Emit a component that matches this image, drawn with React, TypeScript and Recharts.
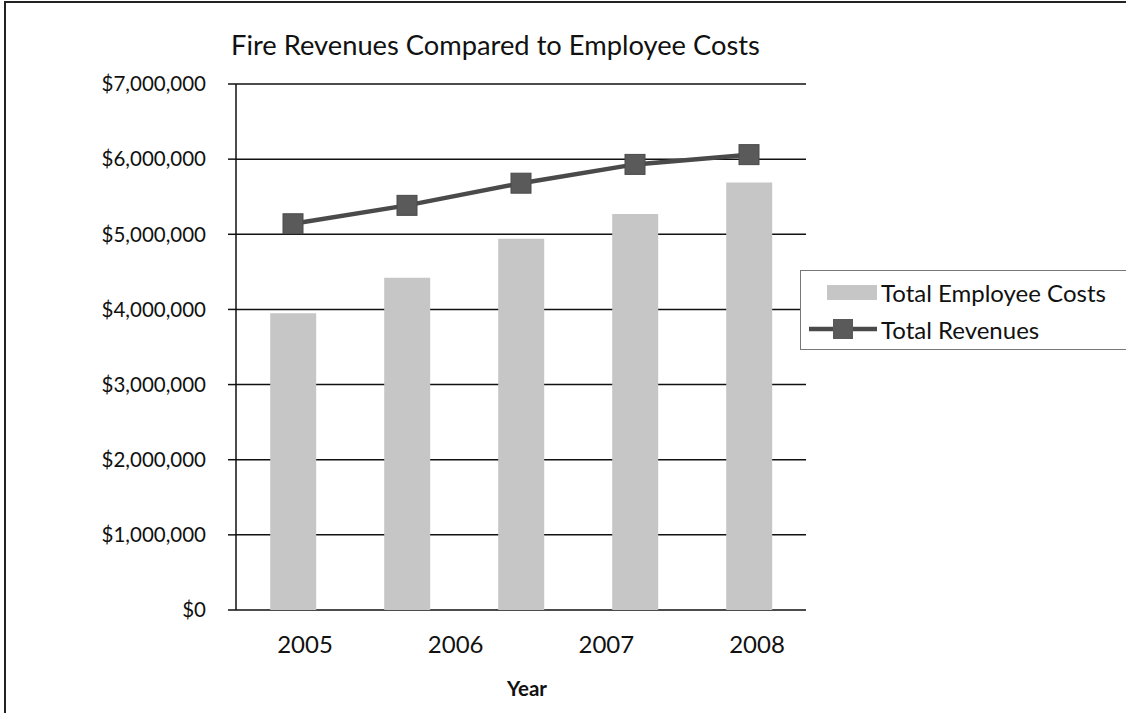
import { ComposedChart, LineChart, Bar, Line, XAxis, YAxis, CartesianGrid } from 'recharts';

// five plotted points, only four year labels printed under the axis
const POINTS = ['p1', 'p2', 'p3', 'p4', 'p5'];
const EMPLOYEE_COSTS = [3950000, 4420000, 4940000, 5270000, 5690000];
const REVENUES = [5140000, 5385000, 5680000, 5930000, 6060000];
const YEAR_LABELS = ['2005', '2006', '2007', '2008'];
const Y_TICKS = [0, 1000000, 2000000, 3000000, 4000000, 5000000, 6000000, 7000000];

const FONT = 'Lato, "Open Sans", sans-serif';

const data = POINTS.map((p, i) => ({
  point: p,
  costs: EMPLOYEE_COSTS[i],
  revenues: REVENUES[i],
}));

const yearData = YEAR_LABELS.map((y) => ({ year: y }));

const money = (v: number) => '$' + v.toLocaleString('en-US');

function SquareDot(props: any) {
  const { cx, cy } = props;
  if (cx == null || cy == null) return null;
  return <rect x={cx - 10} y={cy - 10} width={20} height={20} fill="#5a5a5a" stroke="#4a4a4a" strokeWidth={1} />;
}

function LegendBox() {
  return (
    <div
      style={{
        position: 'absolute',
        left: 800,
        top: 270,
        width: 340,
        height: 80,
        border: '1px solid #777',
        background: '#fff',
        fontFamily: FONT,
        fontSize: 24,
        color: '#111',
        boxSizing: 'border-box',
      }}
    >
      <div style={{ display: 'flex', alignItems: 'center', height: 38, paddingTop: 2 }}>
        <svg width={80} height={24}>
          <rect x={26} y={5} width={50} height={15} fill="#c6c6c6" />
        </svg>
        <span>Total Employee Costs</span>
      </div>
      <div style={{ display: 'flex', alignItems: 'center', height: 36 }}>
        <svg width={80} height={24}>
          <line x1={8} y1={12} x2={76} y2={12} stroke="#4a4a4a" strokeWidth={4.5} />
          <rect x={32} y={2} width={20} height={20} fill="#5a5a5a" />
        </svg>
        <span>Total Revenues</span>
      </div>
    </div>
  );
}

export default function App() {
  return (
    <div style={{ position: 'absolute', left: 0, top: 0, width: 1126, height: 713, background: '#fff', overflow: 'hidden' }}>
      <div
        style={{
          position: 'absolute',
          left: 4,
          top: 1,
          width: 1200,
          height: 800,
          borderLeft: '2px solid #222',
          borderTop: '2px solid #222',
        }}
      />
      <div
        style={{
          position: 'absolute',
          left: 231,
          top: 28,
          fontFamily: FONT,
          fontSize: 27.3,
          color: '#111',
          whiteSpace: 'nowrap',
        }}
      >
        Fire Revenues Compared to Employee Costs
      </div>

      {/* year labels: drawn by their own category axis under the plot */}
      <div style={{ position: 'absolute', left: 0, top: 0 }}>
        <LineChart width={1126} height={713} data={yearData} margin={{ top: 84, right: 320, bottom: 0, left: 236 }}>
          <YAxis hide />
          <XAxis
            dataKey="year"
            height={103}
            padding={{ left: 69, right: 49 }}
            axisLine={false}
            tickLine={false}
            interval={0}
            tickMargin={20}
            tick={{ fill: '#111', fontSize: 24, fontFamily: FONT }}
          />
        </LineChart>
      </div>

      <div style={{ position: 'absolute', left: 0, top: 0 }}>
        <ComposedChart
          width={1126}
          height={713}
          data={data}
          margin={{ top: 84, right: 320, bottom: 103, left: 0 }}
          barCategoryGap="30%"
        >
          <CartesianGrid vertical={false} stroke="#111" strokeWidth={1.5} />
          <XAxis dataKey="point" hide />
          <YAxis
            domain={[0, 7000000]}
            ticks={Y_TICKS}
            interval={0}
            tickFormatter={money}
            width={236}
            axisLine={{ stroke: '#111', strokeWidth: 1.5 }}
            tickLine={{ stroke: '#111', strokeWidth: 1.5 }}
            tickSize={8}
            tickMargin={22}
            tick={{ fill: '#111', fontSize: 20.5, fontFamily: FONT }}
          />
          <Bar dataKey="costs" name="Total Employee Costs" fill="#c6c6c6" isAnimationActive={false} />
          <Line
            dataKey="revenues"
            name="Total Revenues"
            stroke="#4a4a4a"
            strokeWidth={4.5}
            dot={<SquareDot />}
            activeDot={false}
            isAnimationActive={false}
          />
        </ComposedChart>
      </div>

      <LegendBox />

      <div
        style={{
          position: 'absolute',
          left: 527,
          top: 676,
          transform: 'translateX(-50%)',
          fontFamily: FONT,
          fontSize: 20.5,
          fontWeight: 700,
          color: '#111',
        }}
      >
        Year
      </div>
    </div>
  );
}
